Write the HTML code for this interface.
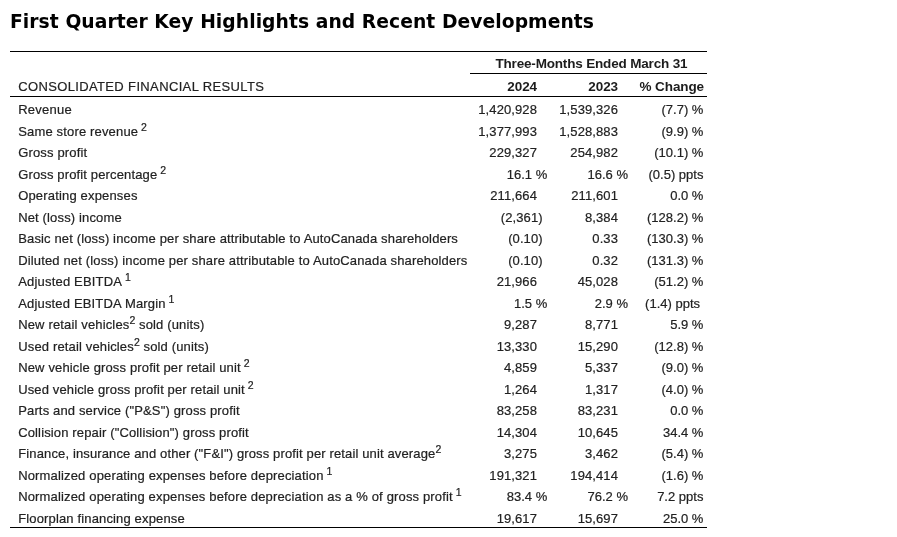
<!DOCTYPE html>
<html><head><meta charset="utf-8"><title>First Quarter Key Highlights</title>
<style>
html,body{margin:0;padding:0;background:#fff;}
body{width:897px;height:537px;position:relative;overflow:hidden;font-family:"Liberation Sans",Arial,sans-serif;color:#222;}
h3{position:absolute;left:10px;top:10px;letter-spacing:0.065px;margin:0;font-family:"DejaVu Sans",Verdana,sans-serif;font-weight:bold;font-size:18.72px;line-height:24px;color:#000;white-space:nowrap;}
.ln{position:absolute;height:1px;background:#000;}
.r{position:absolute;left:0;width:897px;height:16px;line-height:16px;font-size:13px;white-space:pre;-webkit-text-stroke:0.2px #222;}
.r span{position:absolute;top:0;}
.l{left:18.2px;}
.a,.b,.c{text-align:right;}
.a{right:360px;letter-spacing:0.1px}.b{right:279px;letter-spacing:0.1px}.c{right:193.6px}
.pa{right:349.8px}.pb{right:269px}
sup{font-size:10.5px;line-height:0;vertical-align:baseline;position:relative;top:-5px;letter-spacing:0;}
.h{font-weight:bold;color:#1c1c1c;-webkit-text-stroke:0;font-size:13.5px;letter-spacing:-0.1px}
</style></head><body>
<h3>First Quarter Key Highlights and Recent Developments</h3>
<div class="ln" style="left:10px;top:51px;width:697px"></div>
<div class="ln" style="left:470px;top:73px;width:237px"></div>
<div class="ln" style="left:10px;top:96px;width:697px"></div>
<div class="ln" style="left:10px;top:527px;width:697px"></div>
<div class="r h" style="top:56px"><span style="left:495.4px;letter-spacing:-0.17px">Three-Months Ended March 31</span></div>
<div class="r" style="top:79px"><span class="l" style="letter-spacing:0.36px">CONSOLIDATED FINANCIAL RESULTS</span><span class="a h">2024</span><span class="b h">2023</span><span class="c h" style="right:193px">% Change</span></div>
<div class="r" style="top:102.20px"><span class="l" style="letter-spacing:0.236px">Revenue</span><span class="a">1,420,928</span><span class="b">1,539,326</span><span class="c">(7.7) %</span></div>
<div class="r" style="top:123.70px"><span class="l" style="letter-spacing:0.162px">Same store revenue<sup> 2</sup></span><span class="a">1,377,993</span><span class="b">1,528,883</span><span class="c">(9.9) %</span></div>
<div class="r" style="top:145.20px"><span class="l" style="letter-spacing:0.159px">Gross profit</span><span class="a">229,327</span><span class="b">254,982</span><span class="c">(10.1) %</span></div>
<div class="r" style="top:166.70px"><span class="l" style="letter-spacing:0.145px">Gross profit percentage<sup> 2</sup></span><span class="pa">16.1 %</span><span class="pb">16.6 %</span><span class="c">(0.5) ppts</span></div>
<div class="r" style="top:188.20px"><span class="l" style="letter-spacing:0.169px">Operating expenses</span><span class="a">211,664</span><span class="b">211,601</span><span class="c">0.0 %</span></div>
<div class="r" style="top:209.70px"><span class="l" style="letter-spacing:0.145px">Net (loss) income</span><span class="a" style="right:354.3px">(2,361)</span><span class="b">8,384</span><span class="c">(128.2) %</span></div>
<div class="r" style="top:231.20px"><span class="l" style="letter-spacing:0.145px">Basic net (loss) income per share attributable to AutoCanada shareholders</span><span class="a" style="right:354.3px">(0.10)</span><span class="b">0.33</span><span class="c">(130.3) %</span></div>
<div class="r" style="top:252.70px"><span class="l" style="letter-spacing:0.152px">Diluted net (loss) income per share attributable to AutoCanada shareholders</span><span class="a" style="right:354.3px">(0.10)</span><span class="b">0.32</span><span class="c">(131.3) %</span></div>
<div class="r" style="top:274.20px"><span class="l" style="letter-spacing:0.190px">Adjusted EBITDA<sup> 1</sup></span><span class="a">21,966</span><span class="b">45,028</span><span class="c">(51.2) %</span></div>
<div class="r" style="top:295.70px"><span class="l" style="letter-spacing:0.168px">Adjusted EBITDA Margin<sup> 1</sup></span><span class="pa">1.5 %</span><span class="pb">2.9 %</span><span class="c" style="right:197px">(1.4) ppts</span></div>
<div class="r" style="top:317.20px"><span class="l" style="letter-spacing:0.150px">New retail vehicles<sup>2</sup> sold (units)</span><span class="a">9,287</span><span class="b">8,771</span><span class="c">5.9 %</span></div>
<div class="r" style="top:338.70px"><span class="l" style="letter-spacing:0.150px">Used retail vehicles<sup>2</sup> sold (units)</span><span class="a">13,330</span><span class="b">15,290</span><span class="c">(12.8) %</span></div>
<div class="r" style="top:360.20px"><span class="l" style="letter-spacing:0.146px">New vehicle gross profit per retail unit<sup> 2</sup></span><span class="a">4,859</span><span class="b">5,337</span><span class="c">(9.0) %</span></div>
<div class="r" style="top:381.70px"><span class="l" style="letter-spacing:0.134px">Used vehicle gross profit per retail unit<sup> 2</sup></span><span class="a">1,264</span><span class="b">1,317</span><span class="c">(4.0) %</span></div>
<div class="r" style="top:403.20px"><span class="l" style="letter-spacing:0.151px">Parts and service ("P&amp;S") gross profit</span><span class="a">83,258</span><span class="b">83,231</span><span class="c">0.0 %</span></div>
<div class="r" style="top:424.70px"><span class="l" style="letter-spacing:0.143px">Collision repair ("Collision") gross profit</span><span class="a">14,304</span><span class="b">10,645</span><span class="c">34.4 %</span></div>
<div class="r" style="top:446.20px"><span class="l" style="letter-spacing:0.135px">Finance, insurance and other ("F&amp;I") gross profit per retail unit average<sup>2</sup></span><span class="a">3,275</span><span class="b">3,462</span><span class="c">(5.4) %</span></div>
<div class="r" style="top:467.70px"><span class="l" style="letter-spacing:0.156px">Normalized operating expenses before depreciation<sup> 1</sup></span><span class="a">191,321</span><span class="b">194,414</span><span class="c">(1.6) %</span></div>
<div class="r" style="top:489.20px"><span class="l" style="letter-spacing:0.155px">Normalized operating expenses before depreciation as a % of gross profit<sup> 1</sup></span><span class="pa">83.4 %</span><span class="pb">76.2 %</span><span class="c">7.2 ppts</span></div>
<div class="r" style="top:510.70px"><span class="l" style="letter-spacing:0.148px">Floorplan financing expense</span><span class="a">19,617</span><span class="b">15,697</span><span class="c">25.0 %</span></div>
</body></html>
